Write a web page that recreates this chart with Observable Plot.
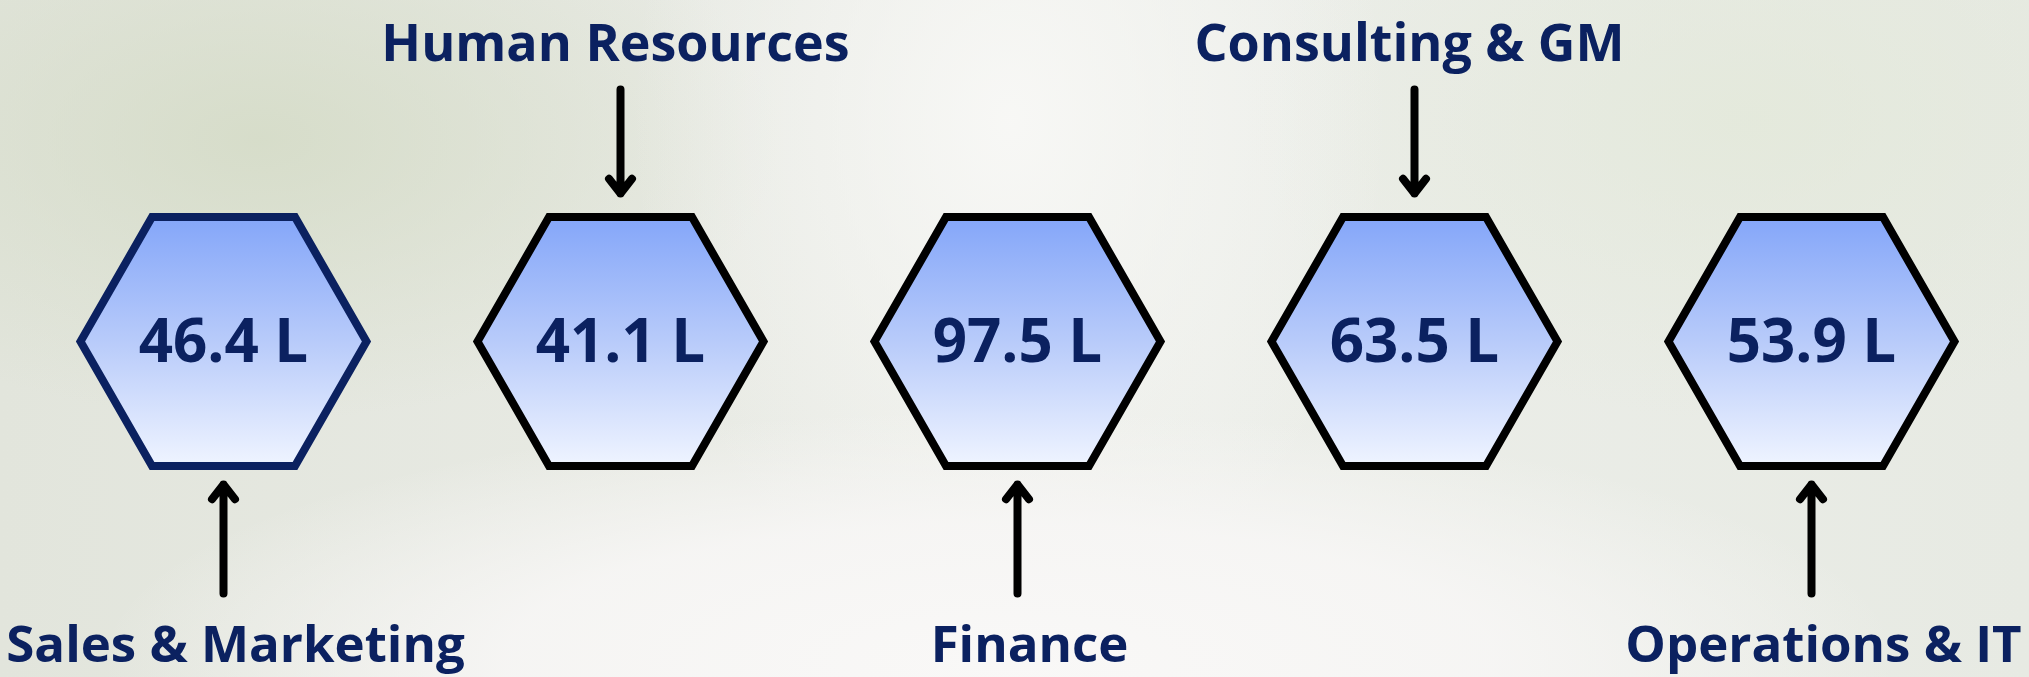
<!DOCTYPE html>
<html>
<head>
<meta charset="utf-8">
<script src="https://cdn.jsdelivr.net/npm/d3@7"></script>
<script src="https://cdn.jsdelivr.net/npm/@observablehq/plot@0.6"></script>
<style>
  html, body { margin: 0; padding: 0; overflow: hidden; }
  body {
    width: 2029px; height: 677px;
    background:
      radial-gradient(ellipse 900px 250px at 1000px 660px, rgba(249,248,247,1) 0%, rgba(247,246,245,0.9) 55%, rgba(247,246,245,0) 100%),
      radial-gradient(ellipse 380px 520px at 1010px 120px, rgba(248,248,246,0.95), rgba(248,248,246,0)),
      radial-gradient(ellipse 520px 280px at 260px 140px, rgba(212,219,198,0.85), rgba(212,219,198,0)),
      radial-gradient(ellipse 500px 300px at 1750px 120px, rgba(226,232,216,0.7), rgba(226,232,216,0)),
      linear-gradient(90deg, #e2e5dc 0%, #e9ebe5 40%, #eceee9 60%, #e7eae3 100%);
  }
  #chart svg { display: block; }
</style>
</head>
<body>
<div id="chart"></div>
<script>
// ---- data ----
const departments = ["Sales & Marketing", "Human Resources", "Finance", "Consulting & GM", "Operations & IT"];
const amounts = [46.4, 41.1, 97.5, 63.5, 53.9];
const unitSuffix = "L";

// ---- derived table ----
const rows = departments.map((dept, i) => ({
  dept,
  amount: amounts[i],
  label: `${amounts[i].toFixed(1)} ${unitSuffix}`,
  side: i % 2 === 0 ? "bottom" : "top",
  first: i === 0
}));

// ---- layout constants ----
const W = 2029, H = 677;
const NAVY = "#0b2160";
const FONT = "'Open Sans', 'Noto Sans', sans-serif";
const HEX_R = 143;
const HEX_CY = 341;

// flat-topped hexagon symbol
const flatHex = {
  draw(ctx, size) {
    const r = Math.sqrt(size / Math.PI);
    const ry = r * 0.87;
    ctx.moveTo(-r, 0);
    ctx.lineTo(-r / 2, -ry);
    ctx.lineTo(r / 2, -ry);
    ctx.lineTo(r, 0);
    ctx.lineTo(r / 2, ry);
    ctx.lineTo(-r / 2, ry);
    ctx.closePath();
  }
};

const topRows = rows.filter(d => d.side === "top");
const bottomRows = rows.filter(d => d.side === "bottom");

const chart = Plot.plot({
  width: W,
  height: H,
  margin: 0,
  style: { background: "transparent", overflow: "visible" },
  x: { type: "point", domain: departments, range: [222, 1812], padding: 0, axis: null },
  y: { type: "linear", domain: [0, H], range: [0, H], axis: null },
  color: { type: "identity" },
  marks: [
    Plot.dot(rows, {
      x: "dept", y: HEX_CY, r: HEX_R, symbol: flatHex,
      fill: "url(#hexFill)",
      stroke: d => d.first ? NAVY : "#000000",
      strokeWidth: 8, strokeLinejoin: "miter"
    }),
    Plot.text(rows, {
      x: "dept", y: 361, text: "label",
      fontSize: 60, fontWeight: 700, fontFamily: FONT,
      fill: NAVY, textAnchor: "middle", lineAnchor: "bottom"
    }),
    Plot.arrow(topRows, {
      x1: "dept", x2: "dept", y1: 89, y2: 193,
      stroke: "#000000", strokeWidth: 8, headLength: 3.5, headAngle: 76
    }),
    Plot.arrow(bottomRows, {
      x1: "dept", x2: "dept", y1: 593, y2: 484,
      stroke: "#000000", strokeWidth: 8, headLength: 3.5, headAngle: 76
    }),
    Plot.text(topRows, {
      x: "dept", y: 60, dx: -5, text: "dept",
      fontSize: 52, fontWeight: 700, fontFamily: FONT,
      fill: NAVY, textAnchor: "middle", lineAnchor: "bottom"
    }),
    Plot.text(bottomRows, {
      x: "dept", y: 661, dx: 12, text: "dept",
      fontSize: 51, fontWeight: 700, fontFamily: FONT,
      fill: NAVY, textAnchor: "middle", lineAnchor: "bottom"
    })
  ]
});

// gradient definition for the hexagon fill
d3.select(chart).insert("defs", ":first-child").html(`
  <linearGradient id="hexFill" x1="0" y1="0" x2="0" y2="1">
    <stop offset="0%" stop-color="#84a6f9"/>
    <stop offset="50%" stop-color="#b8cbfa"/>
    <stop offset="100%" stop-color="#eff4ff"/>
  </linearGradient>`);

document.getElementById("chart").appendChild(chart);
</script>
</body>
</html>
